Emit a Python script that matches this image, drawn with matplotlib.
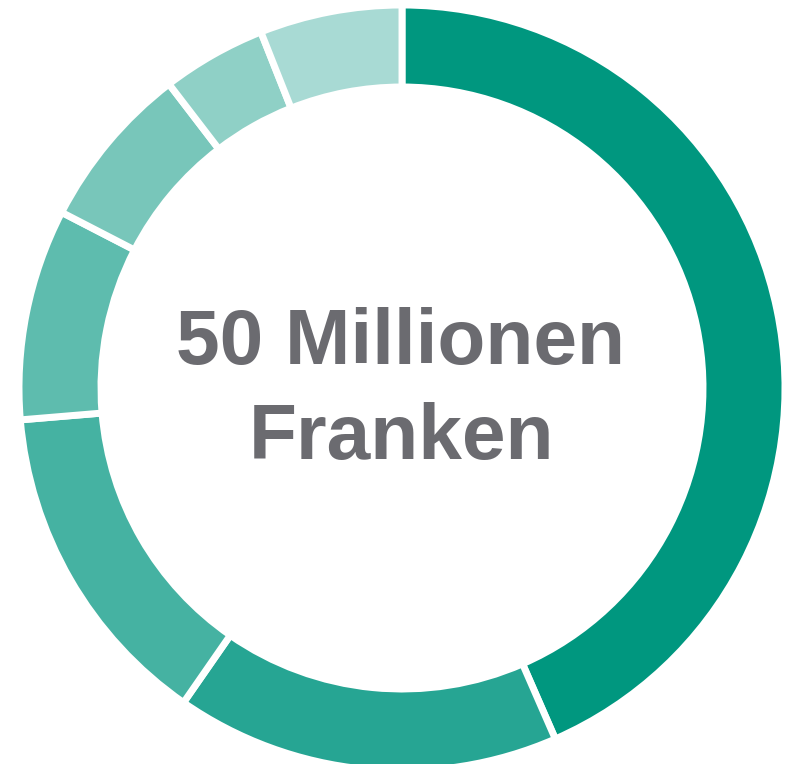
import matplotlib.pyplot as plt

# shares of the 50 million (percent), clockwise from 12 o'clock
shares = [43.4, 16.2, 14.0, 8.9, 7.0, 4.4, 6.0]
colors = ["#00977f", "#26a593", "#45b2a2", "#5ebcae", "#78c6ba", "#8fd0c6", "#a8dad4"]
center_text = "50 Millionen\nFranken"

fig = plt.figure(figsize=(7.94, 7.64), dpi=100)
ax = fig.add_axes([0, 0, 1, 1])

gap = 5  # white separator, in points
ax.pie(shares, colors=colors, startangle=90, counterclock=False,
       center=(402, 376), radius=383, frame=True,
       wedgeprops=dict(width=82, edgecolor="white", linewidth=gap))
ax.set_xlim(0, 794)
ax.set_ylim(0, 764)
ax.set_aspect("equal")
ax.axis("off")

ax.text(401, 373, center_text, ha="center", va="center",
        fontsize=56.5, fontweight="bold", color="#6b6b70",
        family="Liberation Sans", linespacing=1.38)

fig.savefig("out.png", dpi=100)
